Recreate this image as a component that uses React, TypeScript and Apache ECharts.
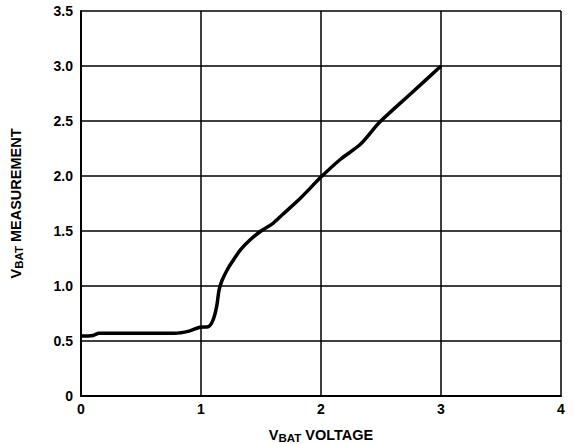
import React, { useEffect, useRef } from "react";
import * as echarts from "echarts";

const voltage = [0, 0.1, 0.15, 0.3, 0.5, 0.78, 0.9, 0.99, 1.06, 1.1, 1.13, 1.15, 1.175, 1.22, 1.26, 1.33, 1.41, 1.5, 1.6, 1.68, 1.83, 2.0, 2.16, 2.33, 2.49, 2.75, 3.0];
const measurement = [0.545, 0.55, 0.57, 0.57, 0.57, 0.57, 0.59, 0.625, 0.63, 0.69, 0.81, 0.96, 1.05, 1.15, 1.22, 1.33, 1.42, 1.5, 1.57, 1.65, 1.8, 1.99, 2.15, 2.29, 2.49, 2.75, 3.0];
const yTickLabels = ["0", "0.5", "1.0", "1.5", "2.0", "2.5", "3.0", "3.5"];

const FONT = "'Liberation Sans', Arial, sans-serif";

export default function App() {
  const ref = useRef<HTMLDivElement>(null);
  useEffect(() => {
    if (!ref.current) return;
    const chart = echarts.init(ref.current, null, { renderer: "svg" });
    const rich = {
      v: { fontSize: 14.5, fontWeight: "bold", fontFamily: FONT, color: "#000" },
      sub: { fontSize: 11.5, fontWeight: "bold", fontFamily: FONT, color: "#000", padding: [6, 0, 0, 0] },
    };
    chart.setOption({
      animation: false,
      backgroundColor: "#fff",
      grid: { left: 81, right: 13, top: 11, bottom: 48, containLabel: false, outerBoundsMode: "none" },
      xAxis: {
        type: "value",
        min: 0,
        max: 4,
        interval: 1,
        name: "{v|V}{sub|BAT}{v| VOLTAGE}",
        nameLocation: "middle",
        nameGap: 30,
        nameTextStyle: { rich },
        axisLine: { show: true, lineStyle: { color: "#000", width: 2 } },
        axisTick: { show: false },
        splitLine: { show: true, lineStyle: { color: "#000", width: 1.5 } },
        axisLabel: { color: "#000", fontSize: 14, fontWeight: "bold", fontFamily: FONT, margin: 6 },
      },
      yAxis: {
        type: "value",
        min: 0,
        max: 3.5,
        interval: 0.5,
        name: "{v|V}{sub|BAT}{v| MEASUREMENT}",
        nameLocation: "middle",
        nameRotate: 90,
        nameGap: 56,
        nameTextStyle: { rich },
        axisLine: { show: true, lineStyle: { color: "#000", width: 2 } },
        axisTick: { show: false },
        splitLine: { show: true, lineStyle: { color: "#000", width: 1.5 } },
        axisLabel: {
          color: "#000",
          fontSize: 14,
          fontWeight: "bold",
          fontFamily: FONT,
          margin: 8,
          formatter: (v: number) => yTickLabels[Math.round(v / 0.5)] ?? String(v),
        },
      },
      series: [
        {
          type: "line",
          data: voltage.map((x, i) => [x, measurement[i]]),
          smooth: 0.3,
          symbol: "none",
          lineStyle: { color: "#000", width: 3.5 },
        },
      ],
    });
    return () => chart.dispose();
  }, []);
  return <div ref={ref} style={{ position: "fixed", left: 0, top: 0, width: 574, height: 444 }} />;
}
